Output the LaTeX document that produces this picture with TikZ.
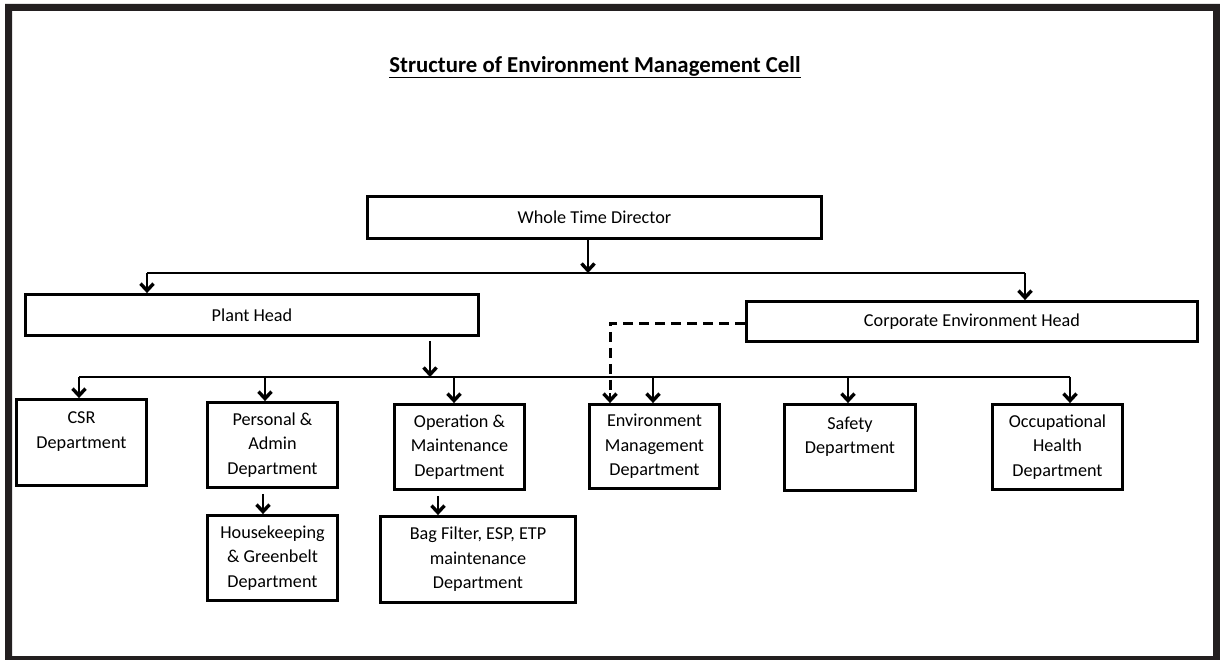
\documentclass[tikz,border=0pt]{standalone}
\usepackage{fontspec}
\setmainfont{Carlito}
\usetikzlibrary{arrows.meta}
\definecolor{frame}{HTML}{231F20}
\tikzset{
  box/.style={draw=black, line width=2.8pt, inner sep=0pt, align=center,
    font=\fontsize{18.2}{24.5}\selectfont, text=black},
  conn/.style={line width=2.8pt, draw=black},
  arr/.style={conn, -{Straight Barb[length=7pt,width=13pt,line width=3.4pt]}},
  dconn/.style={conn, line width=3pt, dash pattern=on 10pt off 6pt},
  ttl/.style={font=\fontsize{22.8}{26}\selectfont\bfseries, text=black, inner sep=0pt}
}
\begin{document}
\begin{tikzpicture}[x=1pt, y=-1pt]
\useasboundingbox (0,0) rectangle (1220,660);
\fill[white] (0,0) rectangle (1220,660);
% frame
\fill[frame, even odd rule] (5,4) rectangle (1220,664) (12,11) rectangle (1213,656);

% title
\node[ttl] (title) at (595,67) {\underline{Structure of Environment Management Cell}};

% boxes
\node[box, minimum width=454, minimum height=42] (wtd) at (594.5,217.5) {Whole Time Director};
\node[box, minimum width=453, minimum height=41] (ph) at (252,315) {Plant Head};
\node[box, minimum width=451, minimum height=40] (ceh) at (972,321.5) {Corporate Environment Head};
\node[box, minimum width=130, minimum height=86] (csr) at (81.5,442.5) {CSR\\Department\\\mbox{}};
\node[box, minimum width=130, minimum height=85] (pers) at (272.5,445) {Personal \&\\Admin\\Department};
\node[box, minimum width=130, minimum height=85] (hk) at (272.5,558) {Housekeeping\\\& Greenbelt\\Department};
\node[box, minimum width=130, minimum height=85] (om) at (459.5,447) {Operation \&\\Maintenance\\Department};
\node[box, minimum width=195, minimum height=86] (bag) at (478,559.5) {Bag Filter, ESP, ETP\\maintenance\\Department};
\node[box, minimum width=130, minimum height=84] (env) at (654.5,446.5) {Environment\\Management\\Department};
\node[box, minimum width=131, minimum height=86] (saf) at (850,447.5) {Safety\\Department\\\mbox{}};
\node[box, minimum width=130, minimum height=85] (occ) at (1057.5,447) {Occupational\\Health\\Department};

% coordinates
\coordinate (b1) at (588,273);
\coordinate (tl) at (147,273);
\coordinate (tr) at (1025,273);
\coordinate (b2) at (430,377);
\coordinate (bl) at (79,377);
\coordinate (br) at (1070,377);
\coordinate (xp) at (265,377);
\coordinate (xo) at (454,377);
\coordinate (xe) at (653,377);
\coordinate (xs) at (848,377);
\coordinate (xh) at (263,500);
\coordinate (xb) at (438,500);
\coordinate (dc) at (610,323);

% connectors
\draw[arr] (wtd.south -| b1) -- (b1);
\draw[conn] (tl) -- (tr);
\draw[arr] (tl) -- (ph.north -| tl);
\draw[arr] (tr) -- (ceh.north -| tr);

\draw[arr] ([yshift=-4pt]ph.south -| b2) -- (b2);
\draw[conn] (bl) -- (br);
\draw[arr] (bl) -- (csr.north -| bl);
\draw[arr] (xp) -- (pers.north -| xp);
\draw[arr] (xo) -- (om.north -| xo);
\draw[arr] (xe) -- (env.north -| xe);
\draw[arr] (xs) -- (saf.north -| xs);
\draw[arr] (br) -- (occ.north -| br);

\draw[arr] ([yshift=-5pt]pers.south -| xh) -- (hk.north -| xh);
\draw[arr] ([yshift=-5pt]om.south -| xb) -- (bag.north -| xb);

\draw[dconn] (ceh.west |- dc) -- (dc) -- ([yshift=8pt]env.north -| dc);
\draw[arr] ([yshift=10pt]env.north -| dc) -- (env.north -| dc);
\end{tikzpicture}
\end{document}
